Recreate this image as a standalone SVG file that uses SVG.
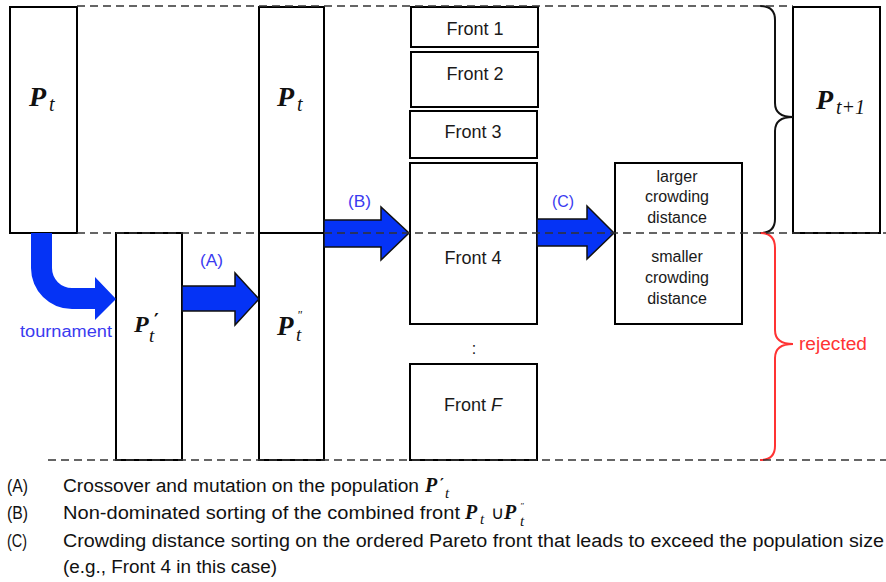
<svg xmlns="http://www.w3.org/2000/svg" width="886" height="582" viewBox="0 0 886 582">
<style>
.box{fill:#fff;stroke:#000;stroke-width:2}
.dash{fill:none;stroke:#333;stroke-width:1.6;stroke-dasharray:8 5}
.arrow{fill:#0533f5;stroke:#111;stroke-width:1.5;stroke-linejoin:miter}
.lbl{font-family:"Liberation Sans",Arial,sans-serif;fill:#1a1a1a;text-anchor:middle}
.blue{font-family:"Liberation Sans",Arial,sans-serif;fill:#3a3af0;font-size:16px}
.P{font-family:"Liberation Serif","DejaVu Serif",serif;font-weight:bold;font-style:italic;fill:#111}
.sub{font-family:"Liberation Serif","DejaVu Serif",serif;font-style:italic;fill:#111}
.pr{font-family:"DejaVu Serif","Liberation Serif",serif;font-weight:bold;fill:#111}
.note{font-family:"Liberation Sans",Arial,sans-serif;fill:#111;font-size:18px}
</style>
<rect width="886" height="582" fill="#fff"/>

<g id="Pt">
<rect class="box" x="10" y="7" width="67" height="226"/>
<text class="P" x="29" y="106" font-size="28">P</text><text class="sub" x="49" y="111" font-size="20">t</text>
</g>
<g id="Pt-prime">
<rect class="box" x="116" y="233" width="66" height="227"/>
<text class="P" x="134" y="332" font-size="24">P</text><text class="pr" x="154" y="327" font-size="18">′</text><text class="sub" x="149" y="342" font-size="19">t</text>
</g>
<g id="Pt2">
<rect class="box" x="259" y="7" width="65" height="226"/>
<text class="P" x="277" y="106" font-size="28">P</text><text class="sub" x="297" y="111" font-size="20">t</text>
</g>
<g id="Pt-dprime">
<rect class="box" x="259" y="233" width="65" height="227"/>
<text class="P" x="277" y="335" font-size="27">P</text><text class="sub" x="297" y="319" font-size="12">"</text><text class="sub" x="296" y="341" font-size="19">t</text>
</g>
<g id="front1">
<rect class="box" x="411" y="7" width="127" height="40"/>
<text class="lbl" x="475" y="35" font-size="18">Front 1</text>
</g>
<g id="front2">
<rect class="box" x="411" y="52" width="127" height="55"/>
<text class="lbl" x="475" y="80" font-size="18">Front 2</text>
</g>
<g id="front3">
<rect class="box" x="410" y="111" width="127" height="47"/>
<text class="lbl" x="473" y="138" font-size="18">Front 3</text>
</g>
<g id="front4">
<rect class="box" x="410" y="163" width="127" height="161"/>
<text class="lbl" x="473" y="264" font-size="18">Front 4</text>
</g>
<g id="dots">
<text class="lbl" x="474" y="354" font-size="16">:</text>
</g>
<g id="frontF">
<rect class="box" x="410" y="364" width="127" height="96"/>
<text class="lbl" x="473" y="411" font-size="18">Front <tspan font-style="italic">F</tspan></text>
</g>
<g id="crowding">
<rect class="box" x="615" y="163" width="127" height="161"/>
<text class="lbl" x="677" y="182" font-size="16">larger</text>
<text class="lbl" x="677" y="202" font-size="16">crowding</text>
<text class="lbl" x="677" y="223" font-size="16">distance</text>
<text class="lbl" x="677" y="262" font-size="16">smaller</text>
<text class="lbl" x="677" y="283" font-size="16">crowding</text>
<text class="lbl" x="677" y="304" font-size="16">distance</text>
</g>
<g id="Pt1">
<rect class="box" x="793" y="7" width="87" height="226"/>
<text class="P" x="816" y="109" font-size="28">P</text><text class="sub" x="836" y="114" font-size="20">t+1</text>
</g>

<g id="connectors">
<path d="M31,233 L31,268 A41,41 0 0 0 72,309 L95,309 L95,320 L116,299 L95,277 L95,288 L72,288 A20,20 0 0 1 52,268 L52,233 Z" fill="#0533f5"/>
<text class="blue" x="20" y="337" font-size="16" textLength="92" lengthAdjust="spacingAndGlyphs">tournament</text>
<path class="arrow" d="M182,286 L235,286 L235,273 L259,299 L235,325 L235,311 L182,311 Z"/>
<text class="blue" x="200" y="266" textLength="23" lengthAdjust="spacingAndGlyphs">(A)</text>
<path class="arrow" d="M324,220 L381,220 L381,207 L409,233 L381,260 L381,247 L324,247 Z"/>
<text class="blue" x="348" y="207" textLength="23" lengthAdjust="spacingAndGlyphs">(B)</text>
<path class="arrow" d="M537,219 L587,219 L587,206 L614,233 L587,259 L587,246 L537,246 Z"/>
<text class="blue" x="552" y="207" textLength="22" lengthAdjust="spacingAndGlyphs">(C)</text>
<path d="M760,6 Q775,6 775,20 L775,103 Q775,117 793,117 Q775,117 775,131 L775,219 Q775,233 760,233" fill="none" stroke="#111" stroke-width="2"/>
<path d="M760,233 Q775,233 775,248 L775,330 Q775,344 793,344 Q775,344 775,358 L775,446 Q775,460 760,460" fill="none" stroke="#ff3333" stroke-width="2"/>
<text x="799" y="350" font-family="Liberation Sans,Arial,sans-serif" font-size="18" fill="#ff3333" textLength="68" lengthAdjust="spacingAndGlyphs">rejected</text>
</g>

<g id="guides">
<line class="dash" x1="77" y1="6" x2="793" y2="6"/>
<line class="dash" x1="77" y1="233" x2="886" y2="233"/>
<line class="dash" x1="48" y1="460" x2="886" y2="460"/>
<line x1="259" y1="233" x2="324" y2="233" stroke="#000" stroke-width="2"/>
</g>

<g id="legend">
<text class="note" x="7" y="492" font-size="19" textLength="21" lengthAdjust="spacingAndGlyphs">(A)</text>
<text class="note" x="63" y="492" textLength="356" lengthAdjust="spacingAndGlyphs">Crossover and mutation on the population</text>
<text class="P" x="425" y="492" font-size="20">P</text><text class="pr" x="440" y="489" font-size="15">′</text><text class="sub" x="445" y="498" font-size="15">t</text>
<text class="note" x="7" y="519" font-size="19" textLength="21" lengthAdjust="spacingAndGlyphs">(B)</text>
<text class="note" x="63" y="519" textLength="397" lengthAdjust="spacingAndGlyphs">Non-dominated sorting of the combined front</text>
<text class="P" x="465" y="519" font-size="20">P</text><text class="sub" x="480" y="524" font-size="15">t</text>
<text class="note" x="491" y="519" font-size="14">∪</text>
<text class="P" x="504" y="519" font-size="20">P</text><text class="sub" x="520" y="509" font-size="9">"</text><text class="sub" x="520" y="526" font-size="15">t</text>
<text class="note" x="7" y="547" font-size="19" textLength="20" lengthAdjust="spacingAndGlyphs">(C)</text>
<text class="note" x="63" y="547" textLength="821" lengthAdjust="spacingAndGlyphs">Crowding distance sorting on the ordered Pareto front that leads to exceed the population size</text>
<text class="note" x="63" y="573" textLength="214" lengthAdjust="spacingAndGlyphs">(e.g., Front 4 in this case)</text>
</g>
</svg>
